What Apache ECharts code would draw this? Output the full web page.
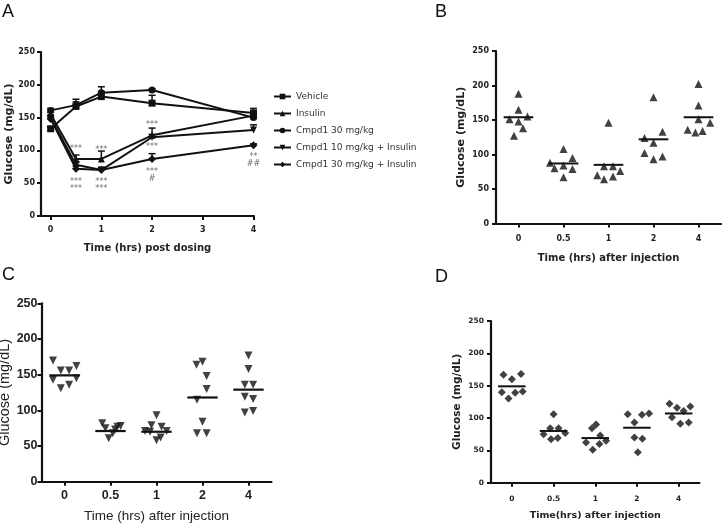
<!DOCTYPE html>
<html>
<head>
<meta charset="utf-8">
<script src="https://cdn.jsdelivr.net/npm/echarts@6/dist/echarts.min.js"></script>
<style>
html, body { margin: 0; padding: 0; background: #fff; }
#main { width: 723px; height: 525px; }
</style>
</head>
<body>
<div id="main"></div>
<script>
// ---- panel A: time course (means, upper error bars) ----
var timesA = [0, 0.5, 1, 2, 4];
var vehicle = [133, 167, 182, 172, 157];
var insulin = [155, 87, 87, 123, 153];
var cmpd30 = [161, 169, 188, 192, 150];
var cmpd10Ins = [150, 78, 70, 120, 131];
var cmpd30Ins = [148, 72, 70, 87, 108];
var vehicleUp = [136, 178, 190, 184, 164];
var insulinUp = [158, 93, 99, 134, 156];
var cmpd30Up = [164, 174, 197, 194, 153];
var cmpd10InsUp = [153, 82, 74, 124, 139];
var cmpd30InsUp = [151, 76, 73, 95, 110];
var seriesNamesA = ['Vehicle', 'Insulin', 'Cmpd1 30 mg/kg', 'Cmpd1 10 mg/kg + Insulin', 'Cmpd1 30 mg/kg + Insulin'];
var annotX = [0.5, 1, 0.5, 0.5, 1, 1, 2, 2, 2, 2, 4, 4];
var annotY = [103, 101, 52, 42, 52, 42, 139, 105, 67, 57, 90, 80];
var annotText = ['***', '***', '***', '***', '***', '***', '***', '***', '***', '#', '**', '##'];

// ---- panels B, C, D: individual points per time, with means ----
var timeLabels = ['0', '0.5', '1', '2', '4'];
var bValues = [
    [188, 165, 151, 148, 155, 138, 127],
    [108, 88, 80, 84, 95, 79, 67],
    [146, 83, 83, 70, 64, 68, 76],
    [183, 124, 117, 133, 102, 93, 97],
    [202, 171, 151, 136, 132, 134, 146]
];
var bJitter = [
    [0, 0, -0.2, 0, 0.2, 0.1, -0.1],
    [0, -0.3, -0.2, 0, 0.2, 0.2, 0],
    [0, -0.1, 0.1, -0.25, -0.1, 0.1, 0.26],
    [0, -0.2, 0, 0.2, -0.2, 0, 0.2],
    [0, 0, 0, -0.24, -0.07, 0.09, 0.26]
];
var bMeans = [154, 87, 85, 122, 154];

var cValues = [
    [170, 156, 156, 162, 143, 131, 136, 145],
    [82, 75, 61, 68, 73, 77, 78],
    [93, 79, 77, 71, 70, 71, 58, 62],
    [164, 168, 148, 130, 115, 84, 68, 68],
    [177, 158, 136, 136, 119, 116, 97, 99]
];
var cJitter = [
    [-0.25, -0.08, 0.1, 0.26, -0.25, -0.08, 0.1, 0.26],
    [-0.18, -0.11, -0.04, 0.05, 0.1, 0.15, 0.22],
    [0, -0.11, 0.11, -0.25, -0.14, 0.22, 0, 0.09],
    [-0.13, 0, 0.09, 0.09, -0.12, 0, -0.12, 0.09],
    [0, 0, -0.08, 0.1, -0.08, 0.1, -0.08, 0.1]
];
var cMeans = [149, 71, 70, 118, 129];

var dValues = [
    [167, 160, 168, 140, 130, 139, 141],
    [106, 84, 84, 75, 77, 67, 69],
    [90, 84, 73, 62, 65, 51, 60],
    [106, 105, 107, 93, 70, 68, 47],
    [122, 116, 111, 118, 101, 91, 93]
];
var dJitter = [
    [-0.2, 0, 0.22, -0.24, -0.08, 0.08, 0.26],
    [0, -0.08, 0.12, -0.24, 0.28, -0.06, 0.1],
    [0.02, -0.08, 0.12, -0.22, 0.26, -0.06, 0.1],
    [-0.22, 0.12, 0.29, -0.06, -0.06, 0.13, 0.02],
    [-0.22, -0.04, 0.12, 0.28, -0.16, 0.04, 0.24]
];
var dMeans = [149, 80, 69, 85, 107];

var ink = '#111';
var gp = 'DejaVu Sans';   // graphpad-like export (A, B, D)
var ar = 'Liberation Sans';
var downTri = 'path://M0,0L10,0L5,9Z';

function points(values, jitter) {
    var out = [];
    values.forEach(function (grp, i) {
        grp.forEach(function (v, j) {
            out.push([i + jitter[i][j], v]);
        });
    });
    return out;
}

function meanLines(grid, means, width) {
    return {
        type: 'custom',
        xAxisIndex: grid, yAxisIndex: grid,
        data: means.map(function (m, i) { return [i, m]; }),
        renderItem: function (params, api) {
            var a = api.coord([api.value(0) - 0.33, api.value(1)]);
            var b = api.coord([api.value(0) + 0.33, api.value(1)]);
            return {
                type: 'line',
                shape: {x1: a[0], y1: a[1], x2: b[0], y2: b[1]},
                style: {stroke: ink, lineWidth: width}
            };
        },
        z: 3
    };
}

function xAxisCat(grid, font, size, weight, margin, title, tSize, tGap, tWeight) {
    return {
        type: 'value', gridIndex: grid, min: -0.5, max: 4.5,
        axisLine: {onZero: false, lineStyle: {color: ink, width: 2.2}},
        axisTick: {customValues: [0, 1, 2, 3, 4], length: 4, lineStyle: {color: ink, width: 2}},
        axisLabel: {
            customValues: [0, 1, 2, 3, 4], margin: margin,
            formatter: function (v) { return timeLabels[Math.round(v)]; },
            fontFamily: font, fontSize: size, fontWeight: weight, color: '#222'
        },
        splitLine: {show: false},
        name: title, nameLocation: 'middle', nameGap: tGap,
        nameTextStyle: {fontFamily: font, fontSize: tSize, fontWeight: tWeight, color: '#222'}
    };
}

function yAxisG(grid, font, size, weight, margin, tSize, tGap, tWeight) {
    return {
        type: 'value', gridIndex: grid, min: 0, max: 250, interval: 50,
        axisLine: {show: true, onZero: false, lineStyle: {color: ink, width: 2.2}},
        axisTick: {show: true, length: 4, lineStyle: {color: ink, width: 2}},
        axisLabel: {margin: margin, fontFamily: font, fontSize: size, fontWeight: weight, color: '#222'},
        splitLine: {show: false},
        name: 'Glucose (mg/dL)', nameLocation: 'middle', nameGap: tGap, nameRotate: 90,
        nameTextStyle: {fontFamily: font, fontSize: tSize, fontWeight: tWeight, color: '#222'}
    };
}

var lineData = [vehicle, insulin, cmpd30, cmpd10Ins, cmpd30Ins];
var upData = [vehicleUp, insulinUp, cmpd30Up, cmpd10InsUp, cmpd30InsUp];
var symbolsA = ['rect', 'triangle', 'circle', downTri, 'diamond'];
var sizesA = [7, 7, 7, 7, 8];

var series = [];
// error bars first so lines sit on top
upData.forEach(function (up, k) {
    series.push({
        type: 'custom', xAxisIndex: 0, yAxisIndex: 0,
        data: timesA.map(function (t, i) { return [t, lineData[k][i], up[i]]; }),
        encode: {x: 0, y: [1, 2]},
        renderItem: function (params, api) {
            var p0 = api.coord([api.value(0), api.value(1)]);
            var p1 = api.coord([api.value(0), api.value(2)]);
            return {
                type: 'group', children: [
                    {type: 'line', shape: {x1: p0[0], y1: p0[1], x2: p1[0], y2: p1[1]}, style: {stroke: ink, lineWidth: 1.5}},
                    {type: 'line', shape: {x1: p1[0] - 3.5, y1: p1[1], x2: p1[0] + 3.5, y2: p1[1]}, style: {stroke: ink, lineWidth: 1.5}}
                ]
            };
        },
        z: 1
    });
});
lineData.forEach(function (vals, k) {
    series.push({
        name: seriesNamesA[k], type: 'line', xAxisIndex: 0, yAxisIndex: 0,
        data: timesA.map(function (t, i) { return [t, vals[i]]; }),
        symbol: symbolsA[k], symbolSize: sizesA[k], showAllSymbol: true,
        lineStyle: {color: ink, width: 2}, itemStyle: {color: ink},
        emphasis: {disabled: true}, z: 2
    });
});
series.push({
    type: 'scatter', xAxisIndex: 0, yAxisIndex: 0, symbolSize: 0,
    data: annotX.map(function (x, i) { return [x, annotY[i], annotText[i]]; }),
    label: {
        show: true, position: 'inside', color: '#444', fontFamily: gp, fontSize: 8,
        formatter: function (p) { return p.data[2]; }
    },
    z: 4
});

series.push({
    type: 'scatter', xAxisIndex: 1, yAxisIndex: 1, symbol: 'triangle', symbolSize: 8,
    itemStyle: {color: ink}, data: points(bValues, bJitter)
});
series.push(meanLines(1, bMeans, 2));
series.push({
    type: 'scatter', xAxisIndex: 2, yAxisIndex: 2, symbol: downTri, symbolSize: 8,
    itemStyle: {color: ink}, data: points(cValues, cJitter)
});
series.push(meanLines(2, cMeans, 2.2));
series.push({
    type: 'scatter', xAxisIndex: 3, yAxisIndex: 3, symbol: 'diamond', symbolSize: 8,
    itemStyle: {color: ink}, data: points(dValues, dJitter)
});
series.push(meanLines(3, dMeans, 2));

var xA = {
    type: 'value', gridIndex: 0, min: -0.19, max: 4.01,
    axisLine: {onZero: false, lineStyle: {color: ink, width: 2}},
    axisTick: {customValues: [0, 1, 2, 3, 4], length: 4, lineStyle: {color: ink, width: 2}},
    axisLabel: {customValues: [0, 1, 2, 3, 4], margin: 10, fontFamily: gp, fontSize: 8, fontWeight: 'bold', color: '#222'},
    splitLine: {show: false},
    name: 'Time (hrs) post dosing', nameLocation: 'middle', nameGap: 27,
    nameTextStyle: {fontFamily: gp, fontSize: 10, fontWeight: 'bold', color: '#222'}
};

var letters = [['A', 2, 3], ['B', 435, 3], ['C', 2, 266], ['D', 435, 268]];

var option = {
    animation: false,
    backgroundColor: '#fff',
    grid: [
        {left: 41, top: 52, width: 213, height: 164, containLabel: false, outerBoundsMode: 'none'},
        {left: 496, top: 51, width: 225, height: 172.5, containLabel: false, outerBoundsMode: 'none'},
        {left: 41.5, top: 303.3, width: 230, height: 178.4, containLabel: false, outerBoundsMode: 'none'},
        {left: 491, top: 321, width: 208.5, height: 161.7, containLabel: false, outerBoundsMode: 'none'}
    ],
    xAxis: [
        xA,
        xAxisCat(1, gp, 8, 'bold', 11, 'Time (hrs) after injection', 10, 30, 'bold'),
        xAxisCat(2, ar, 12.5, 'bold', 7, 'Time (hrs) after injection', 13.5, 28, 'normal'),
        xAxisCat(3, gp, 7.5, 'bold', 12, 'Time(hrs) after injection', 9.5, 28, 'bold')
    ],
    yAxis: [
        yAxisG(0, gp, 8, 'bold', 6, 11, 26, 'bold'),
        yAxisG(1, gp, 8, 'bold', 7, 11, 29, 'bold'),
        yAxisG(2, ar, 12.5, 'bold', 4, 14.5, 26, 'normal'),
        yAxisG(3, gp, 7.5, 'bold', 7, 10.5, 28, 'bold')
    ],
    legend: {
        data: seriesNamesA, orient: 'vertical', left: 268, top: 86,
        itemWidth: 17, itemHeight: 7, itemGap: 6,
        textStyle: {fontFamily: gp, fontSize: 9, color: '#333', lineHeight: 11},
        selectedMode: false
    },
    graphic: letters.map(function (l) {
        return {
            type: 'text', left: l[1], top: l[2],
            style: {text: l[0], font: '18px "Liberation Sans"', fill: '#111'}
        };
    }),
    series: series
};

var chart = echarts.init(document.getElementById('main'));
chart.setOption(option);
</script>
</body>
</html>
